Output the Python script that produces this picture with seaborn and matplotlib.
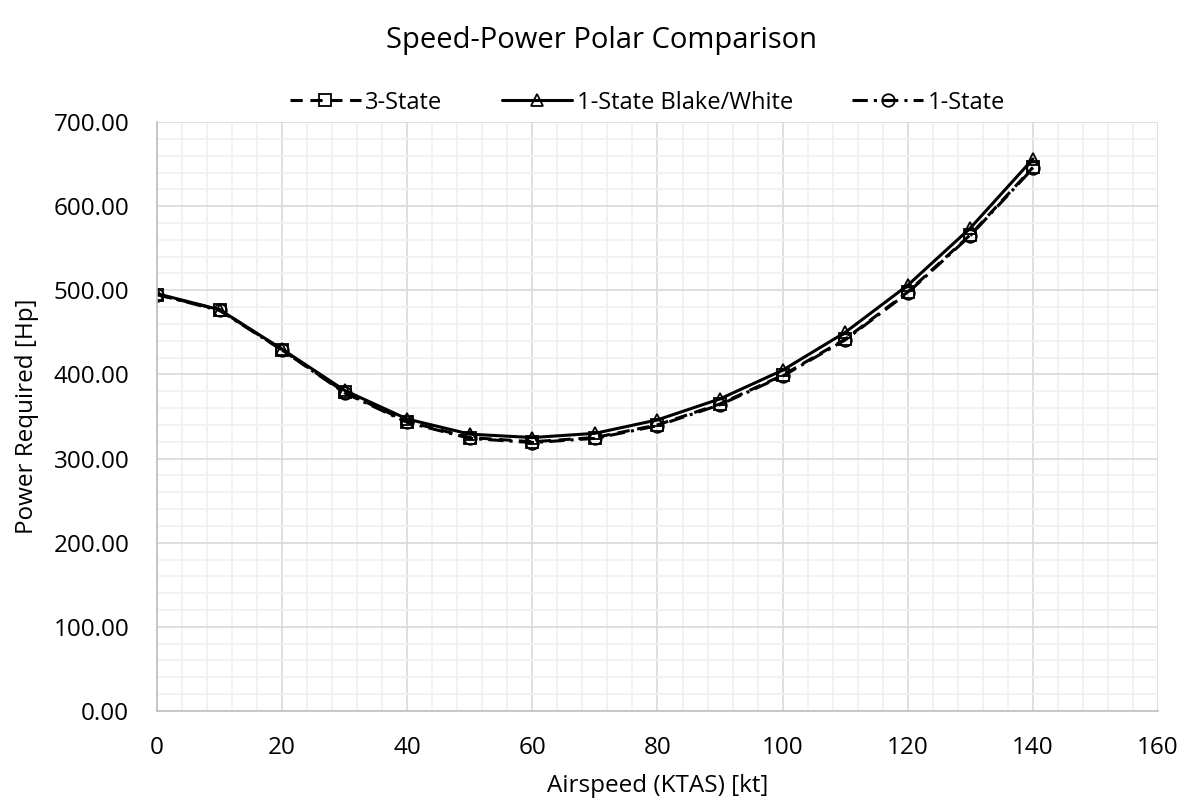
import matplotlib
matplotlib.use("Agg")
import matplotlib.pyplot as plt
import seaborn as sns
import pandas as pd
from matplotlib.ticker import MultipleLocator, FormatStrFormatter

airspeed = [0, 10, 20, 30, 40, 50, 60, 70, 80, 90, 100, 110, 120, 130, 140]
three_state = [495, 477, 429, 379, 344, 325, 320, 325, 340, 365, 399, 442, 498, 566, 646]
blake_white = [496, 477, 430, 381, 347, 329, 325, 330, 346, 371, 405, 450, 506, 574, 656]
one_state = [495, 476, 429, 378, 343, 324, 319, 324, 339, 364, 398, 441, 497, 565, 645]
series_names = ["3-State", "1-State Blake/White", "1-State"]

sns.set_theme(style="white")
plt.rcParams['font.family'] = ['Open Sans', 'DejaVu Sans']
plt.rcParams['text.color'] = 'black'
plt.rcParams['axes.labelcolor'] = 'black'

fig = plt.figure(figsize=(12.02, 8.06), dpi=100)
ax = fig.add_axes([0.1306, 0.1179, 0.8328, 0.7307])

styles = [
    dict(ls=(0, (4, 2.5)), marker="s"),
    dict(ls="-", marker="^"),
    dict(ls=(0, (5, 2, 1, 2)), marker="o"),
]
for name, vals, st in zip(series_names, [three_state, blake_white, one_state], styles):
    df = pd.DataFrame({"x": airspeed, "y": vals})
    sns.lineplot(data=df, x="x", y="y", ax=ax, color="black", lw=2.2,
                 linestyle=st["ls"], marker=st["marker"], markersize=9,
                 markerfacecolor="none", markeredgecolor="black",
                 markeredgewidth=1.3, label=name)

ax.set_xlim(0, 160)
ax.set_ylim(0, 700)
ax.xaxis.set_major_locator(MultipleLocator(20))
ax.xaxis.set_minor_locator(MultipleLocator(4))
ax.yaxis.set_major_locator(MultipleLocator(100))
ax.yaxis.set_minor_locator(MultipleLocator(20))
ax.yaxis.set_major_formatter(FormatStrFormatter("%.2f"))
ax.grid(which="major", color="#d9d9d9", lw=1.2)
ax.grid(which="minor", color="#f0f0f0", lw=1.2)
ax.set_axisbelow(True)
for s in ["top", "right"]:
    ax.spines[s].set_visible(False)
for s in ["left", "bottom"]:
    ax.spines[s].set_color("#bfbfbf")
    ax.spines[s].set_linewidth(1.2)
ax.tick_params(axis="both", which="both", length=0, labelsize=17.5, colors="black")
ax.tick_params(axis="y", pad=20)
ax.tick_params(axis="x", pad=18)

ax.set_xlabel("Airspeed (KTAS) [kt]", fontsize=17.5, labelpad=10)
ax.set_ylabel("Power Required [Hp]", fontsize=17.5, labelpad=10)
fig.text(0.5, 0.95, "Speed-Power Polar Comparison", ha="center", va="center", fontsize=21)

ax.legend(loc="center", bbox_to_anchor=(0.49, 1.033), ncol=3, frameon=False,
          fontsize=17, handlelength=3.0, columnspacing=2.5, handletextpad=0.2)

fig.savefig("out.png", dpi=100)
